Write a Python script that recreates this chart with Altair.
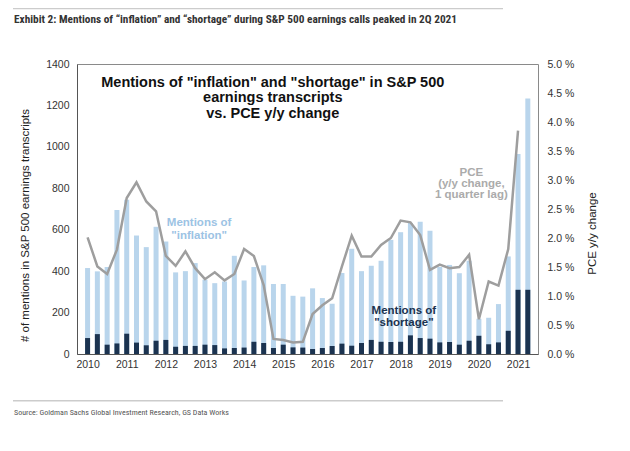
import altair as alt
import pandas as pd

# ---- data ----
quarters = [f"{y}Q{q}" for y in range(2010, 2022) for q in range(1, 5)][:46]
inflation = [415, 399, 420, 695, 745, 572, 516, 614, 543, 394, 400, 439,
             359, 342, 350, 474, 355, 420, 428, 338, 338, 281, 277, 317,
             270, 243, 391, 508, 400, 426, 450, 551, 588, 632, 638, 595,
             420, 430, 390, 450, 170, 175, 241, 471, 965, 1233]
shortage = [77, 96, 45, 51, 98, 55, 42, 64, 68, 35, 39, 39,
            45, 43, 27, 29, 31, 59, 53, 29, 45, 32, 31, 24,
            29, 39, 50, 40, 53, 68, 59, 58, 59, 90, 77, 74,
            56, 58, 45, 64, 88, 47, 56, 112, 310, 310]
pce = [2.01, 1.51, 1.38, 1.80, 2.69, 2.96, 2.63, 2.46, 1.69, 1.52, 1.77, 1.48,
       1.29, 1.41, 1.27, 1.38, 1.81, 1.69, 1.19, 0.26, 0.24, 0.20, 0.21, 0.69,
       0.84, 0.96, 1.51, 2.04, 1.68, 1.68, 1.88, 2.00, 2.30, 2.27, 2.05, 1.45,
       1.54, 1.48, 1.50, 1.71, 0.60, 1.25, 1.18, 1.81, 3.85]
year_labels = list(range(2010, 2022))
left_ticks = [0, 200, 400, 600, 800, 1000, 1200, 1400]
right_ticks = [0, 0.5, 1.0, 1.5, 2.0, 2.5, 3.0, 3.5, 4.0, 4.5, 5.0]

# annotations (in data coordinates: quarter index, mentions)
ann_text = ['Mentions of "inflation" and "shortage" in S&P 500',
            'earnings transcripts', 'vs. PCE y/y change',
            'Mentions of', '"inflation"',
            'Mentions of', '"shortage"',
            'PCE', '(y/y change,', '1 quarter lag)']
ann_x = [18.93, 18.93, 18.93, 11.4, 11.4, 32.33, 32.33, 39.23, 39.23, 39.23]
ann_y = [1308, 1236, 1160, 634, 571, 209, 151, 874, 822, 766]
ann_color = ['#111111'] * 3 + ['#9cc3e4'] * 2 + ['#1b3350'] * 2 + ['#ababab'] * 3
ann_size = [14.5] * 3 + [11.5] * 7

df = pd.DataFrame({"i": list(range(len(quarters))), "quarter": quarters,
                   "inflation": inflation, "shortage": shortage})
pce_df = pd.DataFrame({"i": list(range(len(pce))), "pce": pce})
ann_df = pd.DataFrame({"text": ann_text, "x": ann_x, "y": ann_y,
                       "color": ann_color, "fs": ann_size})
one = pd.DataFrame({"a": [0]})

SANS = "Liberation Sans, Arial, sans-serif"
NARROW = "Liberation Sans Narrow, Roboto Condensed, DejaVu Sans Condensed, Arial Narrow, sans-serif"

xscale = alt.Scale(domain=[-0.57, 45.53], nice=False, zero=False)
yscale = alt.Scale(domain=[0, 1400], nice=False)

xaxis = alt.Axis(values=[4 * (y - 2010) for y in year_labels],
                 labelExpr="toString(2010 + datum.value / 4)",
                 ticks=False, grid=False, labelPadding=5, title=None,
                 domainColor="#555555")
yaxis = alt.Axis(values=left_ticks, format="d", ticks=False, grid=False, labelPadding=8,
                 title="# of mentions in S&P 500 earnings transcripts",
                 titleX=-52, titleY=161, titleAngle=270,
                 titleBaseline="middle", titleAlign="center",
                 domainColor="#555555")

inf_bars = alt.Chart(df).mark_bar(size=5, color="#b9d5ec").encode(
    x=alt.X("i:Q", scale=xscale, axis=xaxis),
    y=alt.Y("inflation:Q", scale=yscale, axis=yaxis),
)

sh_bars = alt.Chart(df).mark_bar(size=5, color="#1b3350").encode(
    x=alt.X("i:Q", scale=xscale, axis=xaxis),
    y=alt.Y("shortage:Q", scale=yscale, axis=yaxis),
)

ann = alt.Chart(ann_df).mark_text(fontWeight="bold", font=SANS, baseline="middle",
                                  align="center").encode(
    x=alt.X("x:Q", scale=xscale, axis=xaxis),
    y=alt.Y("y:Q", scale=yscale, axis=yaxis),
    text="text:N",
    color=alt.Color("color:N", scale=None),
    size=alt.Size("fs:Q", scale=None),
)

# decorative page elements (header title, rules, source)
rule_top = alt.Chart(one).mark_rule(color="#cccccc", strokeWidth=1.5).encode(
    x=alt.value(-64), x2=alt.value(426), y=alt.value(-55.5))
rule_bot = alt.Chart(one).mark_rule(color="#cccccc", strokeWidth=1.5).encode(
    x=alt.value(-64), x2=alt.value(426), y=alt.value(336.7))
header = alt.Chart(one).mark_text(
    text="Exhibit 2: Mentions of \u201cinflation\u201d and \u201cshortage\u201d during S&P 500 earnings calls peaked in 2Q 2021",
    font=NARROW, fontWeight="bold", fontSize=11.3, color="#333333",
    align="left", baseline="middle").encode(x=alt.value(-63), y=alt.value(-44))
source = alt.Chart(one).mark_text(
    text="Source: Goldman Sachs Global Investment Research, GS Data Works",
    font=NARROW, fontSize=8.0, color="#555555",
    align="left", baseline="middle").encode(x=alt.value(-63), y=alt.value(349))

line = alt.Chart(pce_df).mark_line(color="#9e9e9e", strokeWidth=2.5).encode(
    x=alt.X("i:Q", scale=xscale, axis=xaxis),
    y=alt.Y("pce:Q", scale=alt.Scale(domain=[0, 5], nice=False),
            axis=alt.Axis(orient="right", values=right_ticks, ticks=False, grid=False,
                          labelExpr="format(datum.value, '.1f') + ' %'",
                          labelPadding=9, title="PCE y/y change",
                          titleX=54, titleY=169, titleAngle=270,
                          titleBaseline="middle", titleAlign="center",
                          domain=False)),
)

left = alt.layer(inf_bars, sh_bars, ann, rule_top, rule_bot, header, source)

chart = alt.layer(left, line).resolve_scale(y="independent").properties(
    width=461, height=290,
    autosize=alt.AutoSizeParams(type="none"),
    padding={"left": 69, "top": 56, "right": 84, "bottom": 89},
).configure_view(stroke="#8a8a8a", strokeWidth=1).configure_axis(
    labelFont=SANS, labelFontSize=10.5, labelColor="#333333",
    titleFont=SANS, titleFontSize=11.5, titleFontWeight="normal", titleColor="#222222",
)

chart.save("out.html", embed_options={"renderer": "svg", "actions": False})
